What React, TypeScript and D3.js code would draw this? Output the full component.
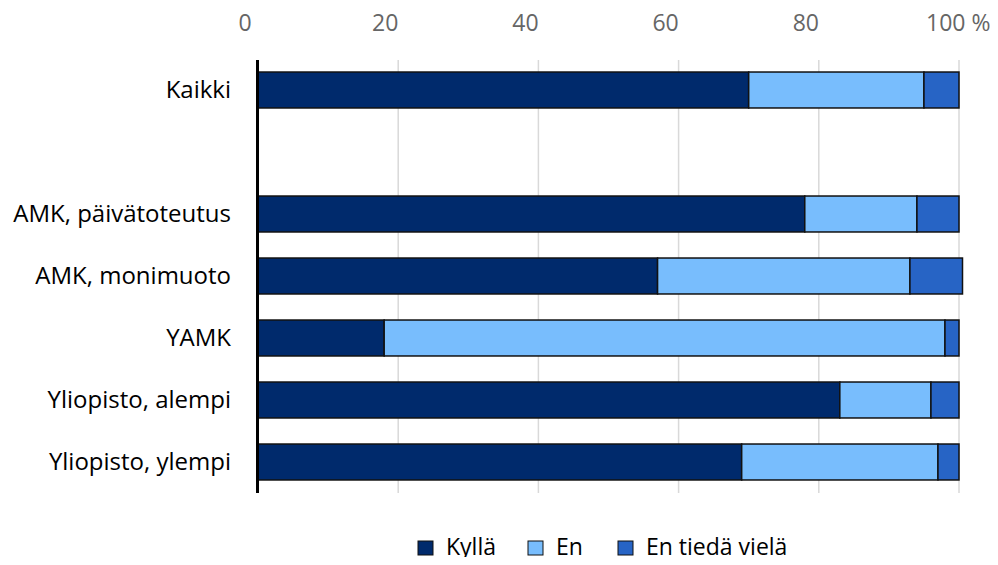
import React, { useEffect, useRef } from 'react';
import * as d3 from 'd3';

const categories = ['Kaikki', '', 'AMK, päivätoteutus', 'AMK, monimuoto', 'YAMK', 'Yliopisto, alempi', 'Yliopisto, ylempi'];
const kylla = [70, null, 78, 57, 18, 83, 69];
const en = [25, null, 16, 36, 80, 13, 28];
const enTieda = [5, null, 6, 7.5, 2, 4, 3];
const seriesNames = ['Kyllä', 'En', 'En tiedä vielä'];
const seriesColors = ['#002a6c', '#78bdfd', '#2764c5'];
const xTicks = [0, 20, 40, 60, 80, 100];

export default function App() {
  const svgRef = useRef<SVGSVGElement>(null);
  const width = 998;
  const height = 565;

  useEffect(() => {
    if (!svgRef.current) return;
    const svg = d3.select(svgRef.current);
    svg.selectAll('*').remove();

    const font = '"Open Sans", sans-serif';
    const x = d3.scaleLinear().domain([0, 100]).range([258, 959]);
    const y = d3.scaleBand()
      .domain(categories.map((c, i) => String(i)))
      .range([59, 493])
      .paddingInner(0.42)
      .paddingOuter(0.21);

    // Grid lines
    svg.append('g')
      .selectAll('line')
      .data(xTicks.slice(1))
      .enter()
      .append('line')
      .attr('x1', d => x(d))
      .attr('x2', d => x(d))
      .attr('y1', 60)
      .attr('y2', 493)
      .attr('stroke', '#d9d9d9')
      .attr('stroke-width', 1.5);

    // Tick labels (number centred a bit left of the grid line, "%" trails the last one)
    svg.append('g')
      .selectAll('text')
      .data(xTicks)
      .enter()
      .append('text')
      .attr('x', d => x(d) - 13)
      .attr('y', 31)
      .attr('text-anchor', d => (d === 100 ? 'start' : 'middle'))
      .attr('dx', d => (d === 100 ? -20 : 0))
      .style('font-family', font)
      .style('font-size', '23px')
      .style('fill', '#666666')
      .text(d => (d === 100 ? '100 %' : String(d)));

    // Stacked bars
    const rows = categories.map((c, i) => ({ key: String(i), label: c, vals: [kylla[i], en[i], enTieda[i]] }))
      .filter(r => r.vals[0] !== null);

    rows.forEach(r => {
      let acc = 0;
      r.vals.forEach((v, j) => {
        const val = v as number;
        svg.append('rect')
          .attr('x', x(acc))
          .attr('y', y(r.key)!)
          .attr('width', x(acc + val) - x(acc))
          .attr('height', y.bandwidth())
          .attr('fill', seriesColors[j])
          .attr('stroke', '#111')
          .attr('stroke-width', 1.5);
        acc += val;
      });
    });

    // Category labels
    svg.append('g')
      .selectAll('text')
      .data(rows)
      .enter()
      .append('text')
      .attr('x', 231)
      .attr('y', d => y(d.key)! + y.bandwidth() / 2)
      .attr('dy', '0.35em')
      .attr('text-anchor', 'end')
      .style('font-family', font)
      .style('font-size', '24px')
      .style('fill', '#000')
      .text(d => d.label);

    // Y axis line
    svg.append('line')
      .attr('x1', 257.5)
      .attr('x2', 257.5)
      .attr('y1', 60)
      .attr('y2', 493)
      .attr('stroke', '#000')
      .attr('stroke-width', 3);

    // Legend
    const legendX = [418, 528, 618];
    const legend = svg.append('g');
    seriesNames.forEach((name, i) => {
      legend.append('rect')
        .attr('x', legendX[i])
        .attr('y', 541)
        .attr('width', 15)
        .attr('height', 14)
        .attr('fill', seriesColors[i])
        .attr('stroke', '#111')
        .attr('stroke-width', 1);
      legend.append('text')
        .attr('x', legendX[i] + 28)
        .attr('y', 547)
        .attr('dy', '0.35em')
        .style('font-family', font)
        .style('font-size', '23px')
        .style('fill', '#000')
        .text(name);
    });
  }, []);

  return (
    <div style={{ margin: -8 }}>
      <svg ref={svgRef} width={width} height={height} style={{ display: 'block', background: '#fff' }} />
    </div>
  );
}
